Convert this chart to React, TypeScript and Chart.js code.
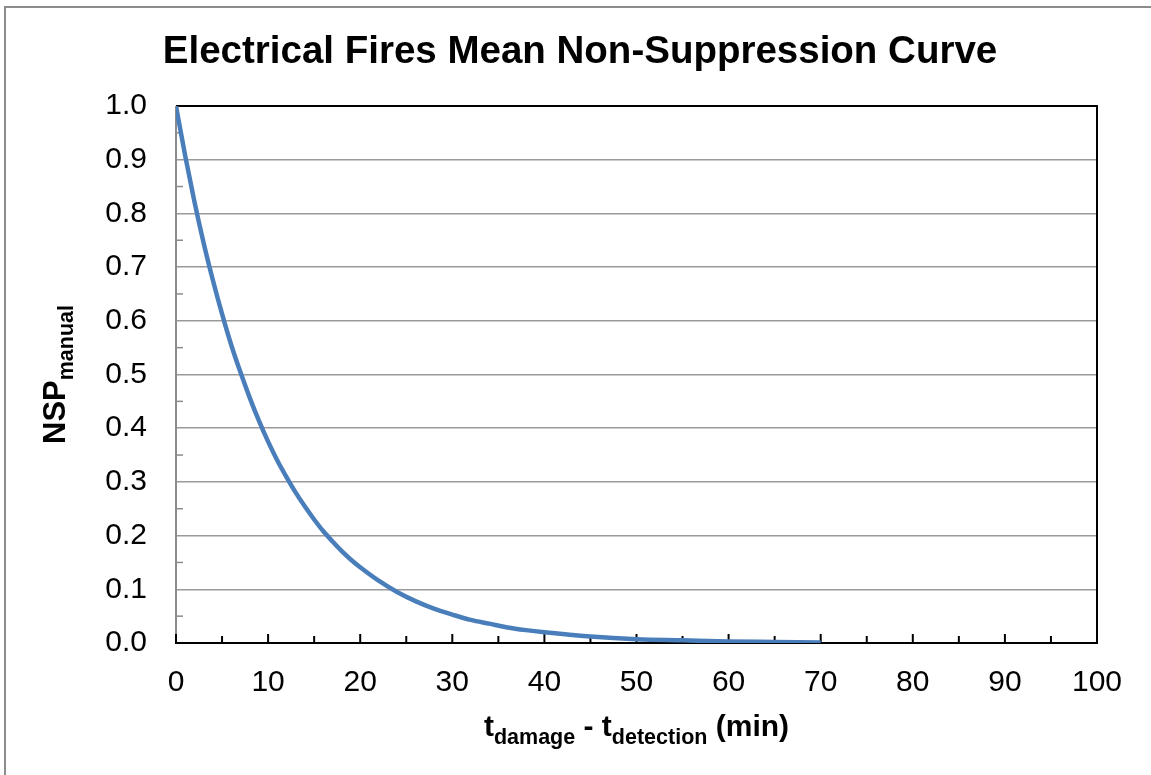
import React, { useEffect, useRef } from 'react';
import { Chart, registerables } from 'chart.js';

Chart.register(...registerables);

const CHART_TITLE = 'Electrical Fires Mean Non-Suppression Curve';
const timeMin = [0, 1, 2, 3, 4, 5, 6, 7, 8, 9, 10, 11, 12, 13, 14, 15, 16, 17, 18, 19, 20, 22, 24, 26, 28, 30, 32, 34, 36, 38, 40, 45, 50, 55, 60, 65, 70];
const nspManual = [1.0, 0.907, 0.822, 0.745, 0.676, 0.613, 0.555, 0.504, 0.457, 0.414, 0.375, 0.34, 0.309, 0.28, 0.254, 0.23, 0.208, 0.189, 0.171, 0.155, 0.141, 0.116, 0.095, 0.078, 0.064, 0.053, 0.043, 0.036, 0.029, 0.024, 0.02, 0.012, 0.007, 0.005, 0.003, 0.002, 0.001];
const xTickValues = [0, 10, 20, 30, 40, 50, 60, 70, 80, 90, 100];
const yTickValues = [0, 0.1, 0.2, 0.3, 0.4, 0.5, 0.6, 0.7, 0.8, 0.9, 1.0];
const xMinorTicks = [5, 15, 25, 35, 45, 55, 65, 75, 85, 95];
const yMinorTicks = [0.05, 0.15, 0.25, 0.35, 0.45, 0.55, 0.65, 0.75, 0.85, 0.95];

const FONT = '"Liberation Sans", Arial, Helvetica, sans-serif';

function drawSubText(ctx: CanvasRenderingContext2D, parts: { t: string; sub: boolean }[], mainSize: number, subSize: number, subOffset: number, cx: number) {
  const mainFont = `bold ${mainSize}px ${FONT}`;
  const subFont = `bold ${subSize}px ${FONT}`;
  let total = 0;
  const widths = parts.map((p) => {
    ctx.font = p.sub ? subFont : mainFont;
    const w = ctx.measureText(p.t).width;
    total += w;
    return w;
  });
  let x = cx - total / 2;
  ctx.textAlign = 'left';
  ctx.textBaseline = 'alphabetic';
  parts.forEach((p, i) => {
    ctx.font = p.sub ? subFont : mainFont;
    ctx.fillText(p.t, x, p.sub ? subOffset : 0);
    x += widths[i];
  });
}

const framePlugin = {
  id: 'frameAndTicks',
  beforeDatasetsDraw(chart: any) {
    const { ctx, chartArea } = chart;
    const xs = chart.scales.x;
    const ys = chart.scales.y;
    const { left, right, top, bottom } = chartArea;
    ctx.save();
    ctx.strokeStyle = '#8c8c8c';
    ctx.lineWidth = 1.5;
    yMinorTicks.forEach((v) => {
      const y = ys.getPixelForValue(v);
      ctx.beginPath();
      ctx.moveTo(left, y);
      ctx.lineTo(left + 7, y);
      ctx.stroke();
    });
    ctx.lineWidth = 2;
    ctx.beginPath();
    ctx.moveTo(left, top);
    ctx.lineTo(left, bottom);
    ctx.stroke();
    ctx.strokeStyle = '#000';
    ctx.lineWidth = 2;
    ctx.beginPath();
    ctx.moveTo(left, top);
    ctx.lineTo(right, top);
    ctx.lineTo(right, bottom);
    ctx.stroke();
    ctx.beginPath();
    ctx.moveTo(left - 1, bottom);
    ctx.lineTo(right + 1, bottom);
    ctx.stroke();
    xTickValues.forEach((v) => {
      const x = xs.getPixelForValue(v);
      ctx.beginPath();
      ctx.moveTo(x, bottom);
      ctx.lineTo(x, bottom - 9);
      ctx.stroke();
    });
    xMinorTicks.forEach((v) => {
      const x = xs.getPixelForValue(v);
      ctx.beginPath();
      ctx.moveTo(x, bottom);
      ctx.lineTo(x, bottom - 7);
      ctx.stroke();
    });
    ctx.restore();
  },
  afterDraw(chart: any) {
    const { ctx, chartArea } = chart;
    const { left, right, top, bottom } = chartArea;
    ctx.save();
    ctx.strokeStyle = '#8c8c8c';
    ctx.lineWidth = 2;
    ctx.beginPath();
    ctx.moveTo(5, chart.height);
    ctx.lineTo(5, 7);
    ctx.lineTo(chart.width, 7);
    ctx.stroke();
    ctx.fillStyle = '#000';
    ctx.font = `bold 38.5px ${FONT}`;
    ctx.textAlign = 'center';
    ctx.textBaseline = 'alphabetic';
    ctx.fillText(CHART_TITLE, 580, 63);
    ctx.save();
    ctx.translate(0, 736);
    drawSubText(ctx, [
      { t: 't', sub: false },
      { t: 'damage', sub: true },
      { t: ' - t', sub: false },
      { t: 'detection', sub: true },
      { t: ' (min)', sub: false },
    ], 30, 21.5, 8, (left + right) / 2);
    ctx.restore();
    ctx.save();
    ctx.translate(65, (top + bottom) / 2);
    ctx.rotate(-Math.PI / 2);
    drawSubText(ctx, [
      { t: 'NSP', sub: false },
      { t: 'manual', sub: true },
    ], 31, 21.5, 8, 0);
    ctx.restore();
    ctx.restore();
  },
};

export default function App() {
  const ref = useRef<HTMLCanvasElement | null>(null);
  useEffect(() => {
    if (!ref.current) return;
    const chart = new Chart(ref.current, {
      type: 'line',
      data: {
        datasets: [
          {
            label: 'NSP manual',
            data: timeMin.map((t, i) => ({ x: t, y: nspManual[i] })),
            borderColor: '#4a7ebb',
            backgroundColor: '#4a7ebb',
            borderWidth: 4.5,
            pointRadius: 0,
            cubicInterpolationMode: 'monotone',
            fill: false,
          },
        ],
      },
      options: {
        animation: false,
        responsive: false,
        maintainAspectRatio: false,
        layout: { padding: { top: 106, right: 54, bottom: 0, left: 0 } },
        plugins: {
          legend: { display: false },
          title: { display: false },
          tooltip: { enabled: false },
        },
        scales: {
          x: {
            type: 'linear',
            min: 0,
            max: 100,
            afterFit: (s: any) => { s.height = 132; },
            afterBuildTicks: (s: any) => { s.ticks = xTickValues.map((v) => ({ value: v })); },
            grid: { display: false, drawTicks: false },
            border: { display: false },
            ticks: {
              padding: 22,
              color: '#000',
              font: { family: FONT, size: 30 },
              maxRotation: 0,
              callback: (v: any) => String(v),
            },
          },
          y: {
            type: 'linear',
            min: 0,
            max: 1,
            afterFit: (s: any) => { s.width = 176; },
            afterBuildTicks: (s: any) => { s.ticks = yTickValues.map((v) => ({ value: v })); },
            grid: { display: true, drawTicks: false, color: '#9a9a9a', lineWidth: 1.5 },
            border: { display: false },
            ticks: {
              padding: 29,
              color: '#000',
              font: { family: FONT, size: 30 },
              callback: (v: any) => Number(v).toFixed(1),
            },
          },
        },
      },
      plugins: [framePlugin],
    });
    return () => chart.destroy();
  }, []);
  return (
    <div style={{ position: 'fixed', left: 0, top: 0, width: 1151, height: 775, background: '#fff' }}>
      <canvas ref={ref} width={1151} height={775} style={{ display: 'block', width: 1151, height: 775 }} />
    </div>
  );
}
